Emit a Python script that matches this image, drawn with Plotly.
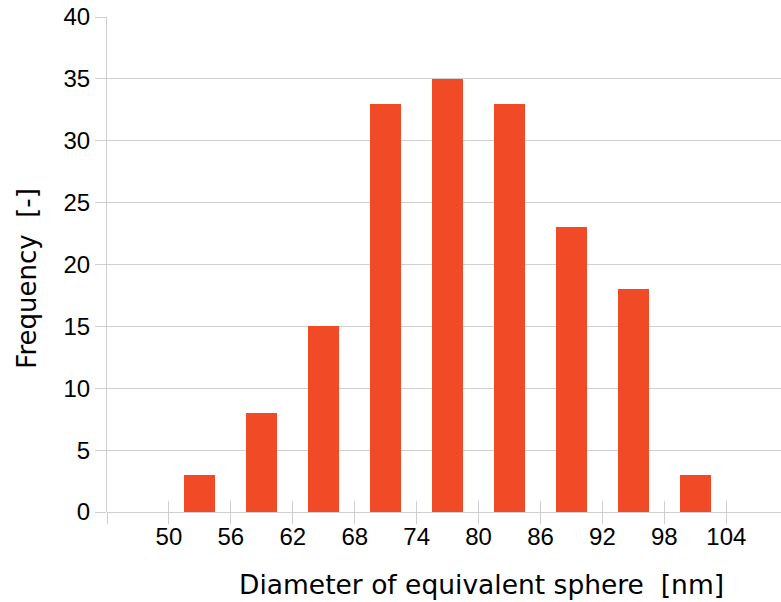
import plotly.graph_objects as go

# Data
bin_lower = [50, 56, 62, 68, 74, 80, 86, 92, 98]
bin_width = 6
frequency = [3, 8, 15, 33, 35, 33, 23, 18, 3]
tick_values = [44, 50, 56, 62, 68, 74, 80, 86, 92, 98, 104, 110]
tick_labels = ["", "50", "56", "62", "68", "74", "80", "86", "92", "98", "104", ""]
y_ticks = [0, 5, 10, 15, 20, 25, 30, 35, 40]

centers = [b + bin_width / 2 for b in bin_lower]

GRID = "#cfcfcf"
FONT = "Liberation Sans, Arial, sans-serif"
TFONT = "DejaVu Sans, Liberation Sans, sans-serif"

fig = go.Figure()
fig.add_trace(go.Bar(
    x=centers, y=frequency, width=bin_width / 2,
    marker=dict(color="#F14A26", line=dict(width=0)),
    showlegend=False, hoverinfo="x+y",
))
# invisible trace so the overlay axis is drawn
fig.add_trace(go.Scatter(x=[centers[0]], y=[0], xaxis="x2", mode="markers",
                         marker=dict(opacity=0), showlegend=False, hoverinfo="skip"))

fig.update_layout(
    width=781, height=602,
    margin=dict(l=107, r=0, t=17, b=90),
    paper_bgcolor="white", plot_bgcolor="white",
    font=dict(family=FONT, color="black"),
    xaxis=dict(
        range=[44, 109.3], tickmode="array", tickvals=tick_values, ticktext=tick_labels,
        ticks="outside", ticklen=11, tickcolor=GRID, tickwidth=1,
        showgrid=False, zeroline=False, showline=False,
        ticklabelstandoff=-8,
        tickfont=dict(size=24, family=FONT, color="black"),
    ),
    xaxis2=dict(
        overlaying="x", matches="x", side="bottom", anchor="y",
        tickmode="array", tickvals=tick_values, ticktext=["" for _ in tick_values],
        ticks="inside", ticklen=11, tickcolor=GRID, tickwidth=1,
        showgrid=False, zeroline=False, showline=False, showticklabels=False,
    ),
    yaxis=dict(
        range=[0, 40], tickmode="array", tickvals=y_ticks,
        ticks="outside", ticklen=11, tickcolor=GRID,
        showgrid=True, gridcolor=GRID, gridwidth=1,
        zeroline=True, zerolinecolor=GRID, zerolinewidth=1,
        showline=True, linecolor=GRID, linewidth=1,
        tickfont=dict(size=24, family=FONT, color="black"),
    ),
    annotations=[
        dict(text="Diameter of equivalent sphere\u00a0 [nm]", xref="paper", yref="paper",
             x=0.556, y=-0.147, xanchor="center", yanchor="middle", showarrow=False,
             font=dict(size=26.5, family=TFONT, color="black")),
        dict(text="Frequency\u00a0 [-]", xref="paper", yref="paper",
             x=-0.119, y=0.473, xanchor="center", yanchor="middle", showarrow=False,
             textangle=-90, font=dict(size=26, family=TFONT, color="black")),
    ],
    bargap=0,
)

fig.write_html("out.html")
